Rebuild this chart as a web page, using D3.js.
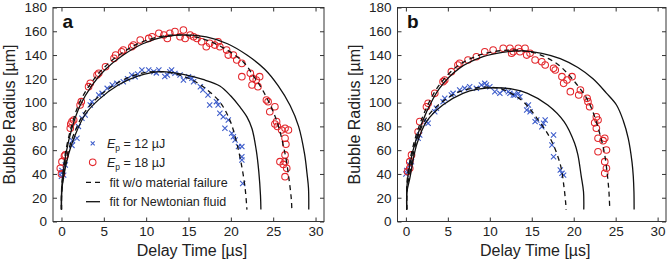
<!DOCTYPE html>
<html>
<head>
<meta charset="utf-8">
<script src="https://cdn.jsdelivr.net/npm/d3@7"></script>
<style>
  body { margin: 0; background: #fff; }
  svg { display: block; font-family: "Liberation Sans", Arial, sans-serif; }
</style>
</head>
<body>
<div id="chart"></div>
<script>
// measured points [delay time in us, radius in um]
const blueA = [[0,38],[0.05,41],[0.06,43],[0.26,39],[0.45,47.5],[1.24,64],[1.3,68],[1.83,70],[2.0,80],[2.42,86.8],[2.8,89.6],
  [3.4,98],[3.6,100.8],[4.4,106.4],[4.8,107.8],[5.4,112],[6.0,114.8],[6.55,116.2],[7.3,117.6],[7.8,120],[8.3,123.2],[8.7,121.8],
  [9.0,124],[9.5,127.4],[10.3,127.4],[10.9,126],[11.2,125],[11.5,127.4],[12.2,122],[12.5,123.2],[12.8,126],[13.0,127.4],
  [13.4,124.6],[14.0,123.2],[14.4,119],[15.0,121.8],[15.4,120.4],[15.6,117.6],[16.4,113.4],[16.7,110.6],[17.3,106.4],[17.5,98],
  [18.3,100.8],[18.5,98],[18.7,91],[19.1,88],[19.3,78.4],[19.7,85.4],[20.1,74.2],[20.3,71.3],[20.5,68.5],[20.9,63],[21.3,63],
  [21.3,54.5],[21.3,51.7],[21.4,32]];
const redA = [[-0.14,44.7],[0.0,40],[0.06,50.3],[0.35,55],[0.45,56],[1.04,78.4],[1.1,82],[1.24,84],[1.44,85.4],[2.2,98],[2.34,100.8],
  [3.2,113.4],[3.4,116.2],[4.2,123.2],[4.4,124.6],[5.2,130.2],[6.2,137.2],[6.4,140],[7.1,142.8],[7.3,144.2],[8.3,147],[8.5,148.4],
  [9.3,152.6],[10.3,154],[10.7,155.4],[11.5,158.3],[12.1,156.9],[12.5,154],[12.8,158.3],[13.4,159.7],[14.0,155.4],[14.4,161],
  [14.6,154],[15.2,156.9],[15.6,155.4],[16.0,154],[16.55,151.2],[17.1,147],[17.5,149.9],[18.1,148.4],[18.5,151.2],[18.7,147],
  [19.5,144.2],[19.7,140],[20.3,140],[20.7,135.8],[21.3,133],[21.3,121.8],[22.3,124.6],[22.5,114.8],[22.6,120.4],[23.0,119],
  [23.4,121.8],[23.2,113.4],[24.2,102.2],[24.4,100.8],[24.6,92.3],[25.2,96.5],[25.4,84],[25.2,82],[25.5,80],[26.0,77],[26.4,78.4],
  [26.8,77],[26.4,70],[26.5,65],[26.4,56],[26.4,50.3],[26.6,44.7],[26.4,37.7],[25.8,50.3],[26.2,48]];
const blueB = [[0.0,40],[0.1,43],[0.27,42],[0.46,47.5],[0.67,50.3],[1.46,70],[1.65,72.7],[2.45,84],[2.65,82.6],[3.44,92.3],
  [3.64,95.2],[4.43,100.8],[4.63,103.6],[5.42,106.4],[5.62,107.8],[6.41,110.6],[7.0,112],[7.6,113.4],[8.4,112],[9.0,114.8],
  [9.4,116.2],[9.6,114.8],[10.0,113.4],[10.6,109.2],[11.2,107.8],[11.6,110.6],[12.2,109.2],[12.4,107.8],[12.8,106.4],[13.0,106.4],
  [13.4,107.8],[13.6,105],[14.4,93.8],[14.6,98],[14.8,92.3],[15.4,84],[15.6,85.4],[16.2,79.7],[16.4,82.6],[16.6,85.4],[17.4,64.3],
  [17.6,72.7],[17.6,54.5],[18.4,43.3],[18.6,40.5],[18.8,39]];
const redB = [[0.2,42],[0.46,44.7],[0.46,50.3],[0.67,56],[1.46,75.5],[1.65,84],[2.45,96.5],[2.65,99.4],[3.44,107.8],[4.43,117.6],
  [4.63,119],[5.42,126],[6.2,131.6],[6.41,133],[7.4,135.8],[8.4,138.6],[9.4,142.8],[10.4,144.2],[11.6,145.7],[12.4,145.7],
  [12.6,141.5],[12.8,142.8],[13.4,145.7],[13.6,142.8],[14.2,145.7],[14.4,140],[14.8,141.5],[15.4,135.8],[16.2,134.4],[16.6,131.6],
  [17.6,128.8],[17.8,127.4],[18.6,121.8],[18.8,116.2],[19.2,119],[19.8,121.8],[19.6,109.2],[20.6,106.4],[20.8,110.6],[21.6,103.6],
  [21.7,100.8],[21.9,96.5],[22.7,88],[22.9,85.4],[22.5,83],[22.7,78.4],[22.9,70],[23.5,68],[23.7,70],[22.9,58.7],[23.9,60.1],
  [23.7,50.3],[23.9,44.7],[23.7,40.5]];

// fitted curves
const dashBlueA = [[0,10],[0.03,25],[0.24,39],[0.8,59],[1.55,75],[2.7,91.5],[4.3,104.5],[6.6,116.5],[9,124],[11,126],[13,125],
  [15,120.5],[16.7,113.5],[18.7,100.5],[19.9,85],[20.7,66],[21.3,46],[21.7,27],[21.9,10]];
const solidBlueA = [[0,10],[0.03,25],[0.26,38],[0.85,57],[1.63,73],[2.8,90],[4.4,102.5],[6.75,115],[9.1,122.5],[11.8,126],
  [14.5,123.5],[16.7,119.5],[18.7,114],[20.0,105.5],[21.0,97],[21.9,88],[22.5,78],[23.0,60],[23.3,42],[23.5,22],[23.55,10]];
const dashRedA = [[0,10],[0.03,30],[0.18,41],[0.5,59],[1.2,80.5],[2.1,99.5],[3.5,116.5],[5.1,130],[7.2,142],[9.5,151],[12,156],
  [14,157],[16.5,154],[19,146.5],[21.5,134],[22.7,122],[23.8,110],[25.4,85],[26.4,57],[26.9,34],[27.15,18],[27.2,10]];
const solidRedA = [[0,10],[0.03,28],[0.2,40],[0.53,57],[1.24,78.5],[2.2,97.5],[3.6,114.5],[5.2,128],[7.3,140],[9.6,149.5],
  [12.1,155.2],[14.6,157],[17.1,155.2],[19.6,149.5],[21.9,140],[24.0,128],[25.6,114],[27.0,97.5],[28.0,80],[28.7,57],[29.0,40],
  [29.17,28],[29.2,10]];
const dashBlueB = [[0.1,10],[0.13,27],[0.42,38.5],[1.2,66],[2.35,86],[4.2,100],[6.5,109.5],[8.5,112.5],[10,113],[11.3,111.5],
  [12.4,108.4],[14,100.8],[15.6,87],[17.2,70],[18.4,48],[18.86,28],[19.05,15],[19.1,10]];
const solidBlueB = [[0.1,10],[0.13,25],[0.46,36],[1.26,64],[2.45,84],[4.4,98],[6.8,107.8],[8.6,111.3],[10.65,112.5],[12.7,111.3],
  [14.5,107.8],[16.9,98],[18.85,84],[20.1,66],[20.5,56],[20.9,38],[21.17,25],[21.2,10]];
const dashRedB = [[0.1,10],[0.13,32],[0.42,49],[1.2,72],[2.35,94],[3.9,114],[6.2,131],[9,140.5],[11.5,143.8],[13.5,144],
  [15.5,141.5],[17,137],[18.4,130.5],[20,118.5],[21.55,103.6],[22.3,92],[22.9,79],[23.4,66],[23.7,56],[24.0,40],[24.2,25],[24.3,10]];
const solidRedB = [[0.1,10],[0.13,30],[0.46,47.5],[1.26,70],[2.45,92],[4.0,112],[6.4,129],[9.2,138.6],[11.5,142.3],[13.8,143.5],
  [16.2,141.5],[18.4,137],[20.5,129.5],[22.3,120],[23.9,108],[25.1,98],[25.9,85],[26.5,70],[26.95,50],[27.1,38],[27.18,25],[27.2,10]];

const xTicks = [0, 5, 10, 15, 20, 25, 30];
const yTicks = [0, 20, 40, 60, 80, 100, 120, 140, 160, 180];
const legendLabels = ["12 µJ", "18 µJ", "fit w/o material failure", "fit for Newtonian fluid"];

const W = 670, H = 261;
const blue = "#3f5ecb", red = "#e3262b";

const svg = d3.select("#chart").append("svg")
  .attr("width", W).attr("height", H);

const panels = [
  {id: "a", x0: 53, x1: 324, blue: blueA, red: redA, dB: dashBlueA, sB: solidBlueA, dR: dashRedA, sR: solidRedA, ytx: 15, legend: true},
  {id: "b", x0: 397.5, x1: 666, blue: blueB, red: redB, dB: dashBlueB, sB: solidBlueB, dR: dashRedB, sR: solidRedB, ytx: 360, legend: false}
];
const yTop = 7.5, yBot = 221.5;

panels.forEach(function(p) {
  const x = d3.scaleLinear().domain([-1, 31]).range([p.x0, p.x1]);
  const y = d3.scaleLinear().domain([0, 180]).range([yBot, yTop]);
  const g = svg.append("g");

  g.append("clipPath").attr("id", "clip" + p.id)
    .append("rect").attr("x", p.x0).attr("y", yTop).attr("width", p.x1 - p.x0).attr("height", yBot - yTop);

  // axes, ticks pointing inward on all four sides
  const tickStyle = function(sel) {
    sel.attr("font-family", null).attr("font-size", null);
    sel.select(".domain").remove();
    sel.selectAll(".tick line").attr("stroke", "#333");
    sel.selectAll(".tick text").attr("fill", "#222").style("font-size", "13.5px");
  };
  g.append("g").attr("transform", "translate(0," + yBot + ")")
    .call(d3.axisBottom(x).tickValues(xTicks).tickSizeInner(-4).tickPadding(5)).call(tickStyle);
  g.append("g").attr("transform", "translate(0," + yTop + ")")
    .call(d3.axisTop(x).tickValues(xTicks).tickSizeInner(-4).tickFormat("")).call(tickStyle);
  g.append("g").attr("transform", "translate(" + p.x0 + ",0)")
    .call(d3.axisLeft(y).tickValues(yTicks).tickSizeInner(-4).tickPadding(6)).call(tickStyle);
  g.append("g").attr("transform", "translate(" + p.x1 + ",0)")
    .call(d3.axisRight(y).tickValues(yTicks).tickSizeInner(-4).tickFormat("")).call(tickStyle);

  g.append("rect").attr("x", p.x0).attr("y", yTop).attr("width", p.x1 - p.x0).attr("height", yBot - yTop)
    .attr("fill", "none").attr("stroke", "#333").attr("stroke-width", 1);

  const plot = g.append("g").attr("clip-path", "url(#clip" + p.id + ")");

  // scatter
  const s = 2.6;
  plot.append("g").selectAll("path").data(p.blue).enter().append("path")
    .attr("d", function(d) {
      const cx = x(d[0]), cy = y(d[1]);
      return "M" + (cx - s) + "," + (cy - s) + "L" + (cx + s) + "," + (cy + s) +
             "M" + (cx - s) + "," + (cy + s) + "L" + (cx + s) + "," + (cy - s);
    })
    .attr("stroke", blue).attr("stroke-width", 1.1).attr("fill", "none");
  plot.append("g").selectAll("circle").data(p.red).enter().append("circle")
    .attr("cx", function(d) { return x(d[0]); })
    .attr("cy", function(d) { return y(d[1]); })
    .attr("r", 3.3)
    .attr("fill", "none").attr("stroke", red).attr("stroke-width", 1.05);

  // fits
  const line = d3.line().x(function(d) { return x(d[0]); }).y(function(d) { return y(d[1]); })
    .curve(d3.curveCatmullRom.alpha(0.5));
  [p.sB, p.sR].forEach(function(c) {
    plot.append("path").datum(c).attr("d", line).attr("fill", "none").attr("stroke", "#111").attr("stroke-width", 1.3);
  });
  [p.dB, p.dR].forEach(function(c) {
    plot.append("path").datum(c).attr("d", line).attr("fill", "none").attr("stroke", "#111").attr("stroke-width", 1.3)
      .attr("stroke-dasharray", "5,4");
  });

  // labels
  g.append("text").attr("x", x(0) + 1).attr("y", 28).text(p.id)
    .style("font-size", "19px").style("font-weight", "bold").attr("fill", "#111");
  g.append("text").attr("x", (p.x0 + p.x1) / 2 + 3.5).attr("y", 256).attr("text-anchor", "middle")
    .style("font-size", "16px").attr("fill", "#222").text("Delay Time [µs]");
  g.append("text").attr("transform", "translate(" + p.ytx + "," + ((yTop + yBot) / 2) + ") rotate(-90)")
    .attr("text-anchor", "middle").style("font-size", "16px").attr("fill", "#222").text("Bubble Radius [µm]");

  if (p.legend) {
    const lg = g.append("g");
    const mx = 92.7, tx = 107;
    const rows = [143.3, 162.3, 182.3, 201.7];
    lg.append("path")
      .attr("d", "M" + (mx - 2) + "," + (rows[0] - 2) + "L" + (mx + 2) + "," + (rows[0] + 2) +
                 "M" + (mx - 2) + "," + (rows[0] + 2) + "L" + (mx + 2) + "," + (rows[0] - 2))
      .attr("stroke", blue).attr("stroke-width", 1.1);
    lg.append("circle").attr("cx", mx).attr("cy", rows[1]).attr("r", 3.3)
      .attr("fill", "none").attr("stroke", red).attr("stroke-width", 1.05);
    lg.append("line").attr("x1", 86).attr("x2", 100).attr("y1", rows[2]).attr("y2", rows[2])
      .attr("stroke", "#111").attr("stroke-width", 1.3).attr("stroke-dasharray", "5,4");
    lg.append("line").attr("x1", 86).attr("x2", 100).attr("y1", rows[3]).attr("y2", rows[3])
      .attr("stroke", "#111").attr("stroke-width", 1.3);
    [0, 1].forEach(function(i) {
      const t = lg.append("text").attr("x", tx).attr("y", rows[i] + 4.5).style("font-size", "12.5px").attr("fill", "#222");
      t.append("tspan").style("font-style", "italic").text("E");
      t.append("tspan").attr("dy", 3).style("font-size", "8.5px").text("p");
      t.append("tspan").attr("dy", -3).text(" = " + legendLabels[i]);
    });
    [2, 3].forEach(function(i) {
      lg.append("text").attr("x", 109.5).attr("y", rows[i] + 4.5).style("font-size", "12.5px").attr("fill", "#222")
        .text(legendLabels[i]);
    });
  }
});
</script>
</body>
</html>
